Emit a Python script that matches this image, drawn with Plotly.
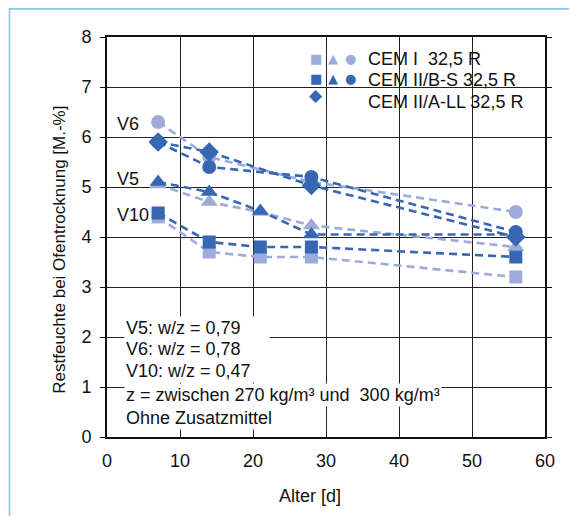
import plotly.graph_objects as go

# ---- data ----
alter_4 = [7, 14, 28, 56]
alter_5 = [7, 14, 21, 28, 56]

cem1_v6 = [6.3, 5.6, 5.1, 4.5]
cem1_v5 = [5.05, 4.7, 4.5, 4.23, 3.8]
cem1_v10 = [4.4, 3.7, 3.6, 3.6, 3.2]

cem2bs_v6 = [5.9, 5.4, 5.2, 4.1]
cem2bs_v5 = [5.1, 4.9, 4.52, 4.05, 4.05]
cem2bs_v10 = [4.48, 3.9, 3.8, 3.8, 3.6]

cem2ll_v6 = [5.9, 5.7, 5.03, 4.0]

x_ticks = [0, 10, 20, 30, 40, 50, 60]
y_ticks = [0, 1, 2, 3, 4, 5, 6, 7, 8]

legend_labels = ["CEM I\u00a0\u00a032,5 R", "CEM II/B-S 32,5 R", "CEM II/A-LL 32,5 R"]
info_lines = ["V5: w/z = 0,79", "V6: w/z = 0,78", "V10: w/z = 0,47",
              "z = zwischen 270 kg/m\u00b3 und\u00a0\u00a0300 kg/m\u00b3", "Ohne Zusatzmittel"]

LIGHT = "#9cabd9"
DARK = "#3767b3"
FONT = "Liberation Sans, Arial, sans-serif"
FS = 18

fig = go.Figure()

def add(xs, ys, color, symbol, size):
    fig.add_trace(go.Scatter(
        x=xs, y=ys, mode="lines+markers",
        line=dict(color=color, width=2.6, dash="8px,5px"),
        marker=dict(color=color, symbol=symbol, size=size, line=dict(width=0)),
        showlegend=False, hoverinfo="x+y"))

# light series (CEM I)
add(alter_4, cem1_v6, LIGHT, "circle", 14)
add(alter_5, cem1_v5, LIGHT, "triangle-up", 15)
add(alter_5, cem1_v10, LIGHT, "square", 13)
# dark series (CEM II/B-S, CEM II/A-LL)
add(alter_4, cem2ll_v6, DARK, "diamond", 15)
add(alter_4, cem2bs_v6, DARK, "circle", 14)
add(alter_5, cem2bs_v5, DARK, "triangle-up", 15)
add(alter_5, cem2bs_v10, DARK, "square", 13)

# geometry: page has an 8 px body margin, figure drawn at (8, 8)
OFF = 8
W, H = 577 - OFF, 516 - OFF
L, T = 107 - OFF, 37 - OFF
R = W - (545 - OFF)
B = H - (437.5 - OFF)
pw, ph = W - L - R, H - T - B

def px(x):  # page pixel -> paper x
    return (x - OFF - L) / pw

def py(y):  # page pixel -> paper y
    return 1 - (y - OFF - T) / ph

shapes = [
    # white legend box hiding gridlines
    dict(type="rect", xref="paper", yref="paper", layer="between",
         x0=px(303), x1=px(536), y0=py(113), y1=py(39),
         fillcolor="white", line=dict(width=0)),
    # light blue outer frame (top and left)
    dict(type="line", xref="paper", yref="paper", x0=px(9), x1=px(600), y0=py(8.8), y1=py(8.8),
         line=dict(color="#8ec5ec", width=1.6)),
    dict(type="line", xref="paper", yref="paper", x0=px(9.5), x1=px(9.5), y0=py(8), y1=py(540),
         line=dict(color="#8ec5ec", width=1.6)),
]

annotations = []
# legend symbols
legend_syms = [
    [("\u25a0", LIGHT, 13), ("\u25b2", LIGHT, 13), ("\u25cf", LIGHT, 13)],
    [("\u25a0", DARK, 13), ("\u25b2", DARK, 13), ("\u25cf", DARK, 13)],
    [("\u25c6", DARK, 17)],
]
for row, yy in zip(legend_syms, [59, 79, 95]):
    for j, (ch, col, sz) in enumerate(row):
        annotations.append(dict(xref="paper", yref="paper", x=px(316 + 17 * j), y=py(yy),
                                xanchor="center", yanchor="middle", text=ch, showarrow=False,
                                font=dict(family="DejaVu Sans", size=sz, color=col)))
for lab, yy in zip(legend_labels, [59, 80, 102]):
    annotations.append(dict(xref="paper", yref="paper", x=px(366), y=py(yy), xanchor="left",
                            yanchor="middle", text=lab, showarrow=False,
                            font=dict(family=FONT, size=FS, color="#111")))

# V labels
for lab, yy in [("V6", 124), ("V5", 179), ("V10", 215)]:
    annotations.append(dict(xref="paper", yref="paper", x=px(115), y=py(yy), xanchor="left",
                            yanchor="middle", text=lab, showarrow=False,
                            font=dict(family=FONT, size=FS, color="#111")))

# info text, each line with white background
info_y = [328, 349, 371, 395, 418]
for i, (txt, yy) in enumerate(zip(info_lines, info_y)):
    a = dict(xref="paper", yref="paper", x=px(124), y=py(yy), xanchor="left",
             yanchor="middle", text=txt, showarrow=False, align="left",
             bgcolor="white", borderpad=1,
             font=dict(family=FONT, size=FS, color="#111"))
    if i < 3:
        a["width"] = 142
    annotations.append(a)

# x axis title
annotations.append(dict(xref="paper", yref="paper", x=px(310), y=py(497), xanchor="center",
                        yanchor="middle", text="Alter [d]", showarrow=False,
                        font=dict(family=FONT, size=FS, color="#111")))
# y axis title
annotations.append(dict(xref="paper", yref="paper", x=px(60), y=py(250), xanchor="center",
                        yanchor="middle", text="Restfeuchte bei Ofentrocknung [M.-%]",
                        textangle=-90, showarrow=False,
                        font=dict(family=FONT, size=17, color="#111")))

fig.update_layout(
    width=W, height=H,
    margin=dict(l=L, r=R, t=T, b=B),
    paper_bgcolor="white", plot_bgcolor="white",
    font=dict(family=FONT, size=FS, color="#111"),
    shapes=shapes, annotations=annotations,
    xaxis=dict(range=[0, 60], tickvals=x_ticks, ticktext=[str(v) for v in x_ticks],
               showgrid=True, gridcolor="#222", gridwidth=1,
               showline=True, linecolor="#111", linewidth=2, mirror="ticks",
               ticks="inside", ticklen=5, tickcolor="#111", zeroline=False,
               ticklabelstandoff=6),
    yaxis=dict(range=[0, 8], tickvals=y_ticks, ticktext=[str(v) for v in y_ticks],
               showgrid=True, gridcolor="#222", gridwidth=1,
               showline=True, linecolor="#111", linewidth=2, mirror="ticks",
               ticks="outside", ticklen=5, tickcolor="#111", zeroline=False,
               ticklabelstandoff=5),
)

fig.write_html("out.html")
